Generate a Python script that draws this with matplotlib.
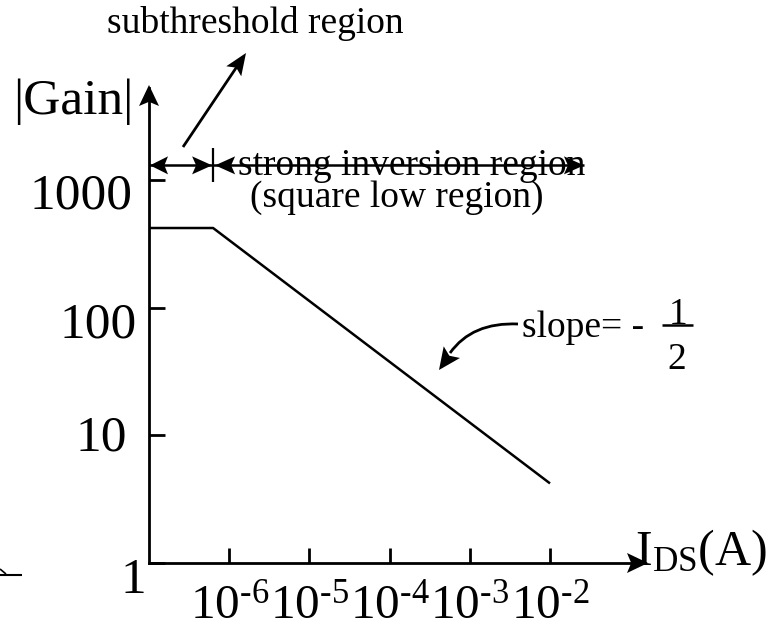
import numpy as np
import matplotlib
matplotlib.use("Agg")
import matplotlib.pyplot as plt
import matplotlib.transforms as mtransforms
from matplotlib.patches import Polygon, PathPatch
from matplotlib.lines import Line2D
from matplotlib.path import Path

plt.rcParams['font.family'] = ['Liberation Serif', 'DejaVu Serif']
plt.rcParams['mathtext.fontset'] = 'custom'
plt.rcParams['mathtext.rm'] = 'Liberation Serif'
plt.rcParams['mathtext.default'] = 'regular'

# gain vs drain current (log-log): flat in subthreshold, -1/2 slope after
I_DS = [1e-7, 6.3e-7, 1e-2]
GAIN = [420, 420, 4.2]

X_TICKS = [1e-6, 1e-5, 1e-4, 1e-3, 1e-2]
X_TICK_LABELS = [r'$10^{\text{-}6}$', r'$10^{\text{-}5}$', r'$10^{\text{-}4}$',
                 r'$10^{\text{-}3}$', r'$10^{\text{-}2}$']
Y_TICKS = [1, 10, 100, 1000]
Y_TICK_LABELS = ['1', '10', '100', '1000']
# per-label nudges in pixels (dx right, dy down)
Y_LABEL_SHIFT = [(10, 12), (-9, -3), (1, 12), (-3, 11)]

REGION_GAIN = 1300       # height of the region arrows
REGION_END = 2.65e-2     # right end of the strong inversion arrow

W, H = 771, 627
X_DEC = 80.2    # pixels per decade
Y_DEC = 127.7
LEFT, RIGHT, BOTTOM, TOP = 149, 645, 563, 88

fig = plt.figure(figsize=(W / 100, H / 100), dpi=100)
px = mtransforms.Affine2D().scale(1 / W, -1 / H).translate(0, 1) + fig.transFigure

ax = fig.add_axes([LEFT / W, (H - BOTTOM) / H, (RIGHT - LEFT) / W, (BOTTOM - TOP) / H])
ax.set_xscale('log')
ax.set_yscale('log')
ax.set_xlim(1e-7, 10 ** (-7 + (RIGHT - LEFT) / X_DEC))
ax.set_ylim(1, 10 ** ((BOTTOM - TOP) / Y_DEC))
ax.patch.set_visible(False)
for s in ['top', 'right']:
    ax.spines[s].set_visible(False)
for s in ['left', 'bottom']:
    ax.spines[s].set_linewidth(2)
    ax.spines[s].set_color('black')

ax.plot(I_DS, GAIN, color='black', lw=1.8, solid_capstyle='butt')

ax.set_xticks(X_TICKS, X_TICK_LABELS)
ax.set_yticks(Y_TICKS, Y_TICK_LABELS)
ax.minorticks_off()
ax.tick_params(axis='x', direction='in', length=10.8, width=2, pad=14.5, labelsize=35.5)
ax.tick_params(axis='y', direction='in', length=11.5, width=2, pad=9.4, labelsize=37)
for lab, (dx, dy) in zip(ax.get_yticklabels(), Y_LABEL_SHIFT):
    lab.set_transform(lab.get_transform() +
                      mtransforms.ScaledTranslation(dx / 100, -dy / 100, fig.dpi_scale_trans))


def to_px(x, y):
    fig.canvas.draw()
    return px.inverted().transform(ax.transData.transform((x, y)))


def head(tip, vec, length=20, width=18, notch=0.2):
    u = np.asarray(vec, float)
    u = u / np.hypot(*u)
    n = np.array([-u[1], u[0]])
    tip = np.asarray(tip, float)
    base = tip - length * u
    pts = [tip, base + n * width / 2, tip - length * (1 - notch) * u, base - n * width / 2]
    fig.add_artist(Polygon(pts, closed=True, transform=px, color='black', lw=0))


def seg(p0, p1, lw=2):
    fig.add_artist(Line2D([p0[0], p1[0]], [p0[1], p1[1]], transform=px,
                          color='black', lw=lw, solid_capstyle='butt'))


def ptext(x, y, s, size=27, **kw):
    kw.setdefault('ha', 'left')
    kw.setdefault('va', 'baseline')
    fig.text(x, y, s, transform=px, fontsize=size, color='black', **kw)


# axis arrowheads
head((LEFT, TOP - 3), (0, -1), 21, 20)
head((RIGHT + 3, BOTTOM), (1, 0), 21, 20)

# region arrows
x0, yr = to_px(I_DS[0], REGION_GAIN)
xb, _ = to_px(I_DS[1], REGION_GAIN)
xe, _ = to_px(REGION_END, REGION_GAIN)
seg((x0, yr), (xe, yr), lw=1.8)
head((x0 + 1, yr), (-1, 0), 18, 18)
head((xb - 1, yr), (1, 0), 20, 18)
head((xb + 2, yr), (-1, 0), 20, 18)
head((xe, yr), (1, 0), 20, 18)
seg((xb, yr - 17), (xb, yr + 17), lw=1.6)

# subthreshold pointer
seg((183, 147), (238, 65), lw=2)
head((246, 53), (63, -94), 22, 18)

# slope pointer
curve = Path([(518, 324), (472, 322), (450, 353)], [Path.MOVETO, Path.CURVE3, Path.CURVE3])
fig.add_artist(PathPatch(curve, transform=px, fill=False, lw=2, color='black'))
head((439, 370), (-23, 32), 22, 20)

ptext(255, 33, 'subthreshold region', ha='center')
ptext(238, 175, 'strong inversion region')
ptext(250, 207, '(square low region)')
ptext(13, 114, '|Gain|', size=37)
ptext(635, 565, r'$I_{DS}$(A)', size=36)
ptext(522, 337, 'slope= -')
ptext(678, 324, '1', ha='center')
seg((662, 325), (693, 325), lw=1.8)
ptext(677, 369, '2', ha='center')

# small arrow stub at the left edge
seg((0, 575), (22, 575), lw=1.5)
seg((0, 569), (6, 574), lw=1.2)

fig.savefig('out.png', dpi=100, facecolor='white')
